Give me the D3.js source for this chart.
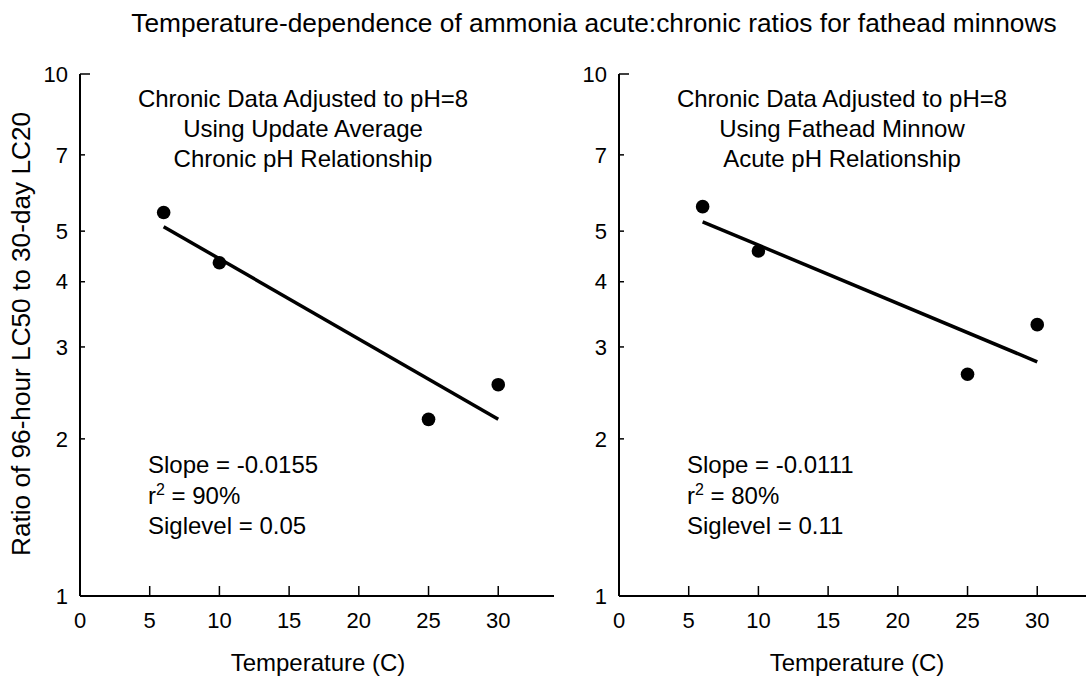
<!DOCTYPE html>
<html>
    <head>
        <title>Ammonia acute:chronic ratios</title>
        <meta charset="UTF-8">
        <script src="https://cdnjs.cloudflare.com/ajax/libs/d3/7.9.0/d3.min.js"></script>
        <style>
            html, body {
                margin: 0;
                padding: 0;
                background: #fff;
                font-family: "Liberation Sans", Arial, sans-serif;
            }
            svg text {
                fill: #000;
            }
        </style>
    </head>
    <body>
        <div class="chart"></div>
        <script>
            // data
            var temps = [6, 10, 25, 30];
            var ratioUpdate = [5.43, 4.35, 2.18, 2.54];
            var ratioFathead = [5.57, 4.58, 2.66, 3.31];
            var fitTemps = [6, 30];
            var fitUpdate = [5.10, 2.18];
            var fitFathead = [5.21, 2.81];
            var xTicks = [0, 5, 10, 15, 20, 25, 30];
            var yTicks = [1, 2, 3, 4, 5, 7, 10];
            var notesUpdate = ["Chronic Data Adjusted to pH=8", "Using Update Average", "Chronic pH Relationship"];
            var notesFathead = ["Chronic Data Adjusted to pH=8", "Using Fathead Minnow", "Acute pH Relationship"];
            var statsUpdate = ["-0.0155", "90%", "0.05"];
            var statsFathead = ["-0.0111", "80%", "0.11"];

            var w = 1086, h = 679;
            var tickSize = 22;
            var textSize = 24;

            var svg = d3.select(".chart").append("svg")
                    .attr("width", w)
                    .attr("height", h);

            svg.append("text")
                .attr("x", 594)
                .attr("y", 32)
                .attr("text-anchor", "middle")
                .style("font-size", "26.3px")
                .text("Temperature-dependence of ammonia acute:chronic ratios for fathead minnows");

            svg.append("text")
                .attr("transform", "translate(30,334) rotate(-90)")
                .attr("text-anchor", "middle")
                .style("font-size", "26.2px")
                .text("Ratio of 96-hour LC50 to 30-day LC20");

            function drawPanel(left, values, fit, notes, stats){
                var g = svg.append("g").attr("transform", "translate(" + left + ",0)");

                var x = d3.scaleLinear().domain([0, 34]).range([0, 474]);
                var y = d3.scaleLog().domain([1, 10]).range([596, 74]);

                // axes
                g.append("line")
                    .attr("x1", 0).attr("x2", 0)
                    .attr("y1", y(1)).attr("y2", y(10))
                    .attr("stroke", "#000").attr("stroke-width", 2);
                g.append("line")
                    .attr("x1", 0).attr("x2", x(34))
                    .attr("y1", y(1)).attr("y2", y(1))
                    .attr("stroke", "#000").attr("stroke-width", 2);

                g.selectAll(".ytick").data(yTicks.filter(d => d > 1)).enter().append("line")
                    .attr("x1", 0)
                    .attr("x2", d => d === 10 ? 10 : 5)
                    .attr("y1", d => y(d)).attr("y2", d => y(d))
                    .attr("stroke", "#000").attr("stroke-width", 1.5);

                g.selectAll(".ylab").data(yTicks).enter().append("text")
                    .attr("x", -12)
                    .attr("y", d => y(d))
                    .attr("dy", "0.35em")
                    .attr("text-anchor", "end")
                    .style("font-size", tickSize + "px")
                    .text(d => d);

                g.selectAll(".xtick").data(xTicks.filter(d => d > 0)).enter().append("line")
                    .attr("x1", d => x(d)).attr("x2", d => x(d))
                    .attr("y1", y(1)).attr("y2", y(1) - 10)
                    .attr("stroke", "#000").attr("stroke-width", 1.5);

                g.selectAll(".xlab").data(xTicks).enter().append("text")
                    .attr("x", d => x(d))
                    .attr("y", 628)
                    .attr("text-anchor", "middle")
                    .style("font-size", tickSize + "px")
                    .text(d => d);

                g.append("text")
                    .attr("x", 238)
                    .attr("y", 671)
                    .attr("text-anchor", "middle")
                    .style("font-size", textSize + "px")
                    .text("Temperature (C)");

                // notes
                g.selectAll(".note").data(notes).enter().append("text")
                    .attr("x", 223)
                    .attr("y", (d, i) => 107 + i * 30)
                    .attr("text-anchor", "middle")
                    .style("font-size", textSize + "px")
                    .text(d => d);

                var st = g.append("g").style("font-size", textSize + "px");
                st.append("text").attr("x", 68).attr("y", 473).text("Slope = " + stats[0]);
                var r2 = st.append("text").attr("x", 68).attr("y", 504);
                r2.append("tspan").text("r");
                r2.append("tspan").attr("dy", -9).style("font-size", "16px").text("2");
                r2.append("tspan").attr("dy", 9).text(" = " + stats[1]);
                st.append("text").attr("x", 68).attr("y", 534).text("Siglevel = " + stats[2]);

                // fit line
                var line = d3.line().x(d => x(d[0])).y(d => y(d[1]));
                g.append("path")
                    .datum(d3.zip(fitTemps, fit))
                    .attr("fill", "none")
                    .attr("stroke", "#000")
                    .attr("stroke-width", 3.5)
                    .attr("d", line);

                g.selectAll(".pt").data(d3.zip(temps, values)).enter().append("circle")
                    .attr("cx", d => x(d[0]))
                    .attr("cy", d => y(d[1]))
                    .attr("r", 6.8)
                    .attr("fill", "#000");
            }

            drawPanel(80, ratioUpdate, fitUpdate, notesUpdate, statsUpdate);
            drawPanel(619, ratioFathead, fitFathead, notesFathead, statsFathead);
        </script>
    </body>
</html>
